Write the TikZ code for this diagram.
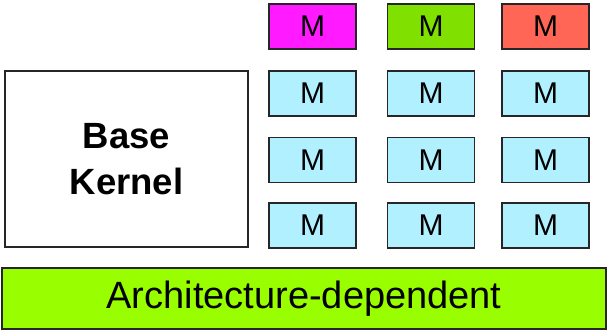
\documentclass[tikz,border=0pt]{standalone}
\usepackage{fontspec}
\setmainfont{Liberation Sans}
\usetikzlibrary{positioning}
\definecolor{modmagenta}{RGB}{255,26,255}
\definecolor{modgreen}{RGB}{128,224,0}
\definecolor{modred}{RGB}{255,102,85}
\definecolor{modcyan}{RGB}{176,240,255}
\definecolor{archgreen}{RGB}{153,255,0}
\begin{document}
\begin{tikzpicture}[x=1pt, y=-1pt,
module/.style = {rectangle, draw=black!85, line width=1.8pt, minimum width=87pt, minimum height=45pt, inner sep=0pt, font=\fontsize{30}{32}\selectfont},
kernel/.style = {rectangle, draw=black!85, line width=1.8pt, minimum width=243pt, minimum height=176pt, align=center, font=\fontsize{36.5}{46}\selectfont\bfseries},
arch/.style = {rectangle, draw=black!85, line width=1.8pt, fill=archgreen, minimum width=604pt, minimum height=61pt, inner sep=0pt, font=\fontsize{38}{40}\selectfont}]
\useasboundingbox (0,0) rectangle (609,332);

\node [kernel] at (126.5,159) (kernel) {Base\\Kernel};

\node [module, fill=modmagenta] at (312.5,26.5) (m1) {M};
\node [module, fill=modgreen] at (431,26.5) (m2) {M};
\node [module, fill=modred] at (545.5,26.5) (m3) {M};

\foreach \Row/\Y in {2/93.5,3/160,4/225.5}
  \foreach \Col/\X in {1/312.5,2/431,3/545.5}
    \node [module, fill=modcyan] at (\X,\Y) (m\Row\Col) {M};

\node [arch] at (304,298.5) (arch) {Architecture-dependent};

\end{tikzpicture}
\end{document}
